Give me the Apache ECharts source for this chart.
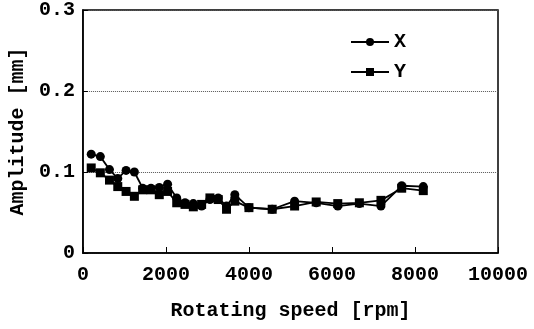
<!DOCTYPE html>
<html>
<head>
<meta charset="utf-8">
<script src="https://cdn.jsdelivr.net/npm/echarts@6/dist/echarts.min.js"></script>
<style>
  html, body { margin: 0; padding: 0; background: #fff; }
  #chart { width: 534px; height: 329px; }
</style>
</head>
<body>
<div id="chart"></div>
<script>
// rotating speed [rpm] of each measurement
const speeds = [200, 420, 640, 840, 1040, 1240, 1440, 1640, 1840, 2040, 2260, 2460, 2660, 2860,
  3060, 3260, 3460, 3660, 4000, 4560, 5100, 5620, 6140, 6660, 7180, 7680, 8200]
// amplitude [mm]
const ampX = [0.122, 0.119, 0.103, 0.092, 0.102, 0.100, 0.080, 0.080, 0.081, 0.085, 0.068, 0.062, 0.061, 0.058,
  0.066, 0.068, 0.058, 0.072, 0.056, 0.054, 0.064, 0.062, 0.058, 0.061, 0.058, 0.083, 0.082]
const ampY = [0.105, 0.099, 0.090, 0.082, 0.076, 0.070, 0.078, 0.078, 0.072, 0.076, 0.062, 0.060, 0.057, 0.060,
  0.068, 0.066, 0.054, 0.064, 0.056, 0.054, 0.058, 0.063, 0.061, 0.062, 0.065, 0.080, 0.077]

const font = '"Liberation Mono", "Courier New", monospace'
const pairs = (ys) => speeds.map((s, i) => [s, ys[i]])

const chart = echarts.init(document.getElementById('chart'))
chart.setOption({
  animation: false,
  grid: {
    left: 80, right: 36, top: 10, bottom: 76,
    show: true, borderColor: '#000', borderWidth: 1.5
  },
  legend: {
    orient: 'vertical',
    left: 345, top: 27,
    itemWidth: 38, itemHeight: 10, itemGap: 10,
    textStyle: {fontFamily: font, fontWeight: 'bold', fontSize: 20, color: '#000'},
    data: ['X', 'Y']
  },
  xAxis: {
    type: 'value',
    min: 0, max: 10000, interval: 2000,
    name: 'Rotating speed [rpm]',
    nameLocation: 'middle',
    nameGap: 48,
    nameTextStyle: {fontFamily: font, fontWeight: 'bold', fontSize: 20, color: '#000'},
    axisLine: {lineStyle: {color: '#000', width: 1.5}},
    axisTick: {inside: true, length: 6, lineStyle: {color: '#000'}},
    axisLabel: {
      fontFamily: font, fontWeight: 'bold', fontSize: 20, color: '#000', margin: 12,
      formatter: (v) => String(v)
    },
    splitLine: {show: false}
  },
  yAxis: {
    type: 'value',
    min: 0, max: 0.3, interval: 0.1,
    name: 'Amplitude [mm]',
    nameLocation: 'middle',
    nameGap: 54,
    nameTextStyle: {fontFamily: font, fontWeight: 'bold', fontSize: 20, color: '#000'},
    axisLine: {show: true, lineStyle: {color: '#000', width: 1.5}},
    axisTick: {show: true, inside: true, length: 5, lineStyle: {color: '#000'}},
    axisLabel: {
      fontFamily: font, fontWeight: 'bold', fontSize: 20, color: '#000', margin: 8,
      formatter: (v) => v === 0 ? '0' : v.toFixed(1)
    },
    splitLine: {show: true, lineStyle: {type: 'dotted', color: '#555', width: 1}}
  },
  series: [
    {
      name: 'X', type: 'line',
      data: pairs(ampX),
      symbol: 'circle', symbolSize: 9,
      itemStyle: {color: '#000'},
      lineStyle: {color: '#000', width: 1.8}
    },
    {
      name: 'Y', type: 'line',
      data: pairs(ampY),
      symbol: 'rect', symbolSize: 9,
      itemStyle: {color: '#000'},
      lineStyle: {color: '#000', width: 1.8}
    }
  ]
})
</script>
</body>
</html>
